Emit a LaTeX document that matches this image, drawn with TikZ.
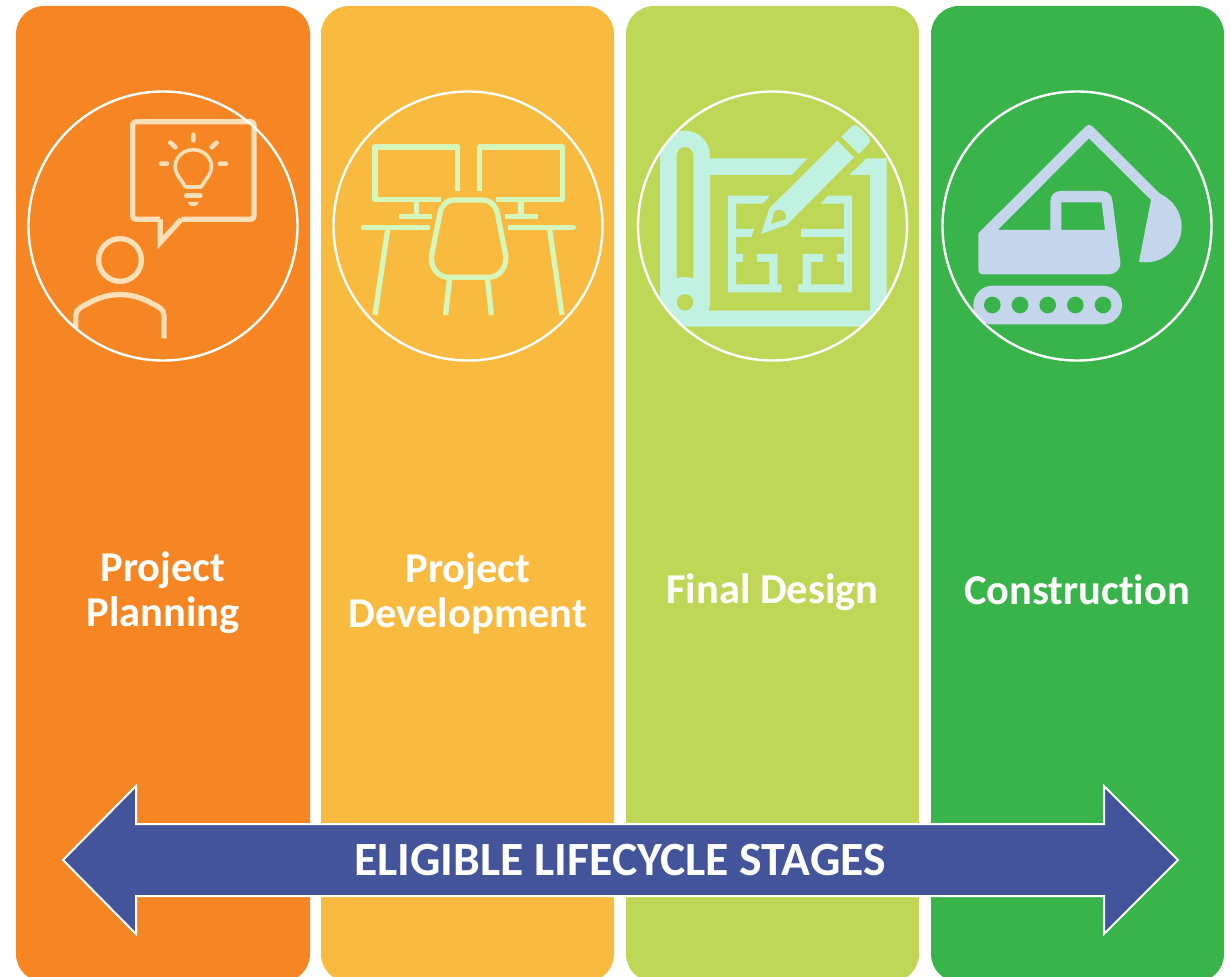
\documentclass[tikz,border=0pt]{standalone}
\usepackage{fontspec}
\setmainfont{Carlito}[RawFeature={-liga}]
\definecolor{pOrange}{HTML}{F68524}
\definecolor{pYellow}{HTML}{F9BB3F}
\definecolor{pLime}{HTML}{BFD757}
\definecolor{pGreen}{HTML}{38B44A}
\definecolor{arrowBlue}{HTML}{44549B}
\definecolor{iconOne}{HTML}{FFDFB8}
\definecolor{iconTwo}{HTML}{D6F7BC}
\definecolor{iconThree}{HTML}{C1F1E0}
\definecolor{iconFour}{HTML}{C5D5EB}
\tikzset{
  panel/.style={rounded corners=28pt,draw=none},
  ring/.style={draw=white,line width=2.4pt,fill=none},
  stagelabel/.style={text=white,font=\fontsize{42.5}{45}\selectfont\bfseries,align=center,inner sep=0pt},
  zoomed/.style={x=0.33333pt,y=-0.33333pt},
  thinicon/.style={line width=5.3pt,line cap=butt,line join=miter},
}
\begin{document}
\begin{tikzpicture}[x=1pt,y=-1pt]
\useasboundingbox (0,0) rectangle (1230,976);
\clip (0,0) rectangle (1230,976);
\fill[white] (0,0) rectangle (1230,976);
% panels
\fill[panel,pOrange] (16,6) rectangle (310,982);
\fill[panel,pYellow] (321,6) rectangle (614,982);
\fill[panel,pLime] (626,6) rectangle (919,982);
\fill[panel,pGreen] (931,6) rectangle (1224,982);

% icon 1
\begin{scope}[shift={(20,85)},zoomed,iconOne,thinicon]
  \draw[rounded corners=3.5pt] (420,403) -- (338,403) -- (338,110) -- (702,110) -- (702,403) -- (484,403);
  \draw[miter limit=10] (421,403) -- (421,472) -- (484,403);
  \draw (300,525) circle[radius=64];
  \begin{scope}
    \clip (428,423) circle[radius=403];
    \draw (167,760) -- (167,692) .. controls (167,672) and (190,662) .. (205,655) .. controls (265,620) and (335,620) .. (395,655) .. controls (415,665) and (432,672) .. (432,692) -- (432,760);
  \end{scope}
  \draw[line width=3.6pt,line join=round] (497,306) -- (543,306) -- (566,272) .. controls (590,235) and (560,194) .. (520,194) .. controls (480,194) and (450,235) .. (474,272) -- cycle;
  \draw[line width=4.6pt,line cap=round] (499,332) -- (541,332);
  \fill (503,351) -- (537,351) .. controls (533,368) and (507,368) .. (503,351) -- cycle;
  \draw[line width=4.6pt,line cap=round] (520,149) -- (520,166) (451,173) -- (466,187) (590,173) -- (575,187) (423,236) -- (441,236) (600,236) -- (618,236);
\end{scope}

% icon 2
\begin{scope}[shift={(325,85)},zoomed,iconTwo,thinicon]
  \draw[line join=round] (398,319) -- (398,186) -- (150,186) -- (150,344) -- (347,344);
  \draw[line join=round] (464,319) -- (464,186) -- (713,186) -- (713,344) -- (513,344);
  \draw (274,344) -- (274,394) (223,394) -- (321,394);
  \draw (588,344) -- (588,394) (541,394) -- (638,394);
  \draw (115,427) -- (314,427) (548,427) -- (745,427);
  \fill (115,419) .. controls (104,419) and (104,435) .. (115,435) -- cycle;
  \fill (745,419) .. controls (756,419) and (756,435) .. (745,435) -- cycle;
  \draw (189,427) -- (150,690) (673,427) -- (711,690);
  \draw (388,345) -- (472,345) .. controls (497,345) and (512,362) .. (517,385) -- (541,505) .. controls (548,545) and (525,577) .. (490,577) -- (372,577) .. controls (337,577) and (313,545) .. (321,505) -- (345,385) .. controls (350,362) and (363,345) .. (388,345) -- cycle;
  \draw (374,577) -- (362,690) (487,577) -- (499,690);
\end{scope}

% icon 3
\begin{scope}[shift={(630,85)},zoomed]
  \begin{scope}
    \clip (428,423) circle[radius=405];
    \fill[iconThree,even odd rule]
      (90,725) -- (90,212) .. controls (90,171) and (124,137) .. (165,137) .. controls (206,137) and (240,171) .. (240,212) -- (240,220) -- (533,220) -- (485,270) -- (240,270) -- (240,650) .. controls (240,660) and (238,670) .. (236,677) -- (720,677) -- (720,270) -- (658,270) -- (710,220) -- (770,220) -- (770,725) -- cycle
      (140,211) .. controls (140,197) and (151,186) .. (165,186) .. controls (179,186) and (190,197) .. (190,211) -- (190,580) .. controls (175,575) and (155,575) .. (140,580) -- cycle
      (165,652) circle[radius=25];
  \end{scope}
  \fill[iconThree] (294,332) -- (420,332) -- (398,356) -- (318,356) -- (318,432) -- (372,432) -- (364,456) -- (318,456) -- (318,507) -- (339,507) -- (339,531) -- (318,531) -- (318,598) -- (418,598) -- (418,531) -- (381,531) -- (381,507) -- (443,507) -- (443,598) -- (455,598) -- (455,622) -- (294,622) -- cycle;
  \fill[iconThree] (666,332) -- (594,332) -- (572,356) -- (642,356) -- (642,432) -- (513,432) -- (513,456) -- (642,456) -- (642,507) -- (621,507) -- (621,531) -- (642,531) -- (642,598) -- (543,598) -- (543,531) -- (579,531) -- (579,507) -- (518,507) -- (518,598) -- (505,598) -- (505,622) -- (666,622) -- cycle;
  \fill[iconThree,even odd rule] (622,167) -- (672,217) -- (470,420) -- (393,447) -- (418,370) -- cycle
     (423,417) -- (432,383) .. controls (442,364) and (472,375) .. (468,402) -- cycle;
  \fill[iconThree] (634,155) -- (662,127) .. controls (670,118) and (680,118) .. (688,127) -- (716,155) .. controls (722,162) and (722,170) .. (716,176) -- (687,207) -- cycle;
\end{scope}

% icon 4
\begin{scope}[shift={(935,85)},zoomed]
  \fill[iconFour,even odd rule]
    (130,445) -- (452,124) .. controls (459,118) and (465,118) .. (472,124) -- (675,327) -- (648,345) -- (462,160) -- (188,435) -- (346,435) -- (346,350) .. controls (346,330) and (358,318) .. (378,318) -- (500,318) .. controls (518,318) and (530,330) .. (532,345) -- (556,530) .. controls (558,552) and (542,568) .. (522,568) -- (142,568) .. controls (135,568) and (130,563) .. (130,556) -- cycle
    (379,352) -- (500,352) -- (510,435) -- (379,435) -- cycle;
  \fill[iconFour] (648,345) -- (612,530) .. controls (680,543) and (740,490) .. (740,425) .. controls (740,380) and (712,342) .. (672,325) -- cycle;
  \fill[iconFour,rounded corners=19.3pt] (115,602) rectangle (561,718);
  \fill[pGreen] (172,660) circle[radius=25] (255,660) circle[radius=25] (338,660) circle[radius=25] (421,660) circle[radius=25] (504,660) circle[radius=25];
\end{scope}

% circles
\node[ring,circle,minimum size=269pt,inner sep=0pt] (ringA) at (163,226) {};
\node[ring,circle,minimum size=269pt,inner sep=0pt] (ringB) at (468,226) {};
\node[ring,circle,minimum size=269pt,inner sep=0pt] (ringC) at (772.5,226) {};
\node[ring,circle,minimum size=269pt,inner sep=0pt] (ringD) at (1077,226) {};

% labels
\node[stagelabel] (labA) at (163,593) {Project\\Planning};
\node[stagelabel] (labB) at (468,593) {Project\\Development};
\node[stagelabel] (labC) at (772.5,592) {Final Design};
\node[stagelabel] (labD) at (1077,590) {Construction};

% arrow
\draw[draw=white,line width=2pt,fill=arrowBlue,line join=miter]
  (63,860) -- (136,786) -- (136,824) -- (1104,824) -- (1104,786) -- (1178,860) -- (1104,934) -- (1104,896) -- (136,896) -- (136,934) -- cycle;
\node[text=white,font=\fontsize{47.7}{55}\selectfont\bfseries,inner sep=0pt] (arrowlabel) at (620,860) {ELIGIBLE LIFECYCLE STAGES};
\end{tikzpicture}
\end{document}
